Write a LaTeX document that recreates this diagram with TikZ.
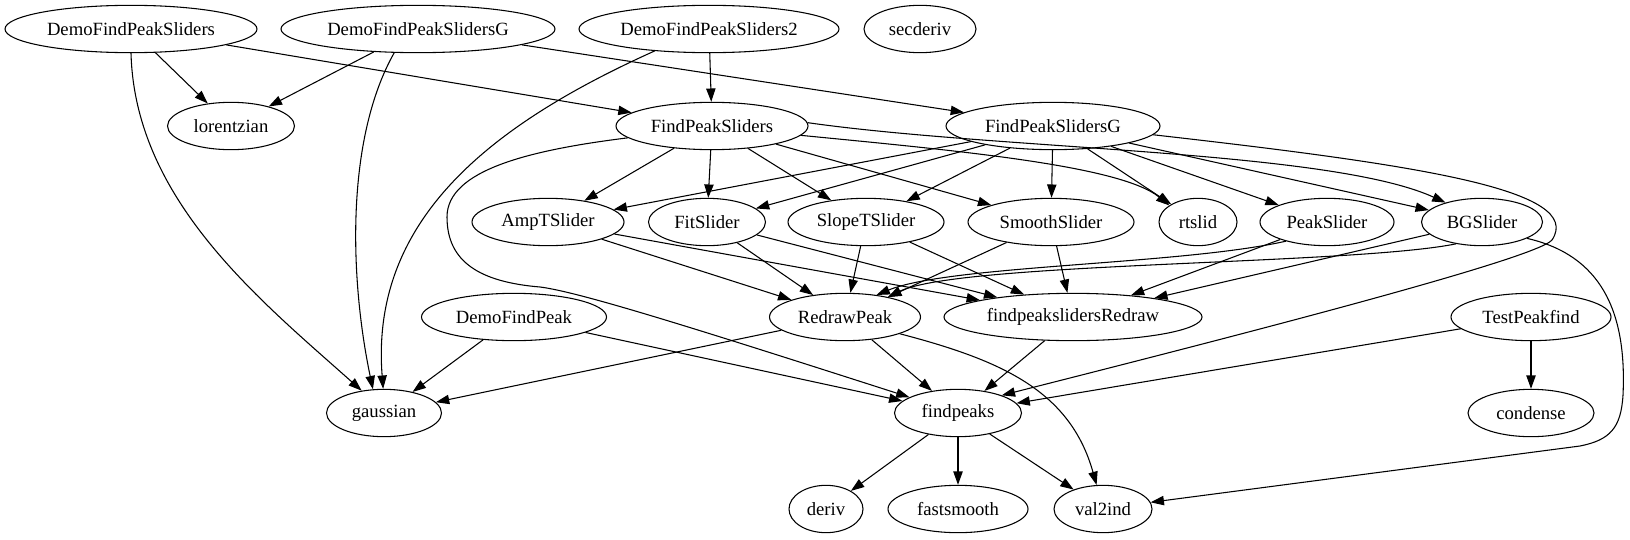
\documentclass[tikz,border=0pt]{standalone}
\usepackage{fontspec}
\setmainfont{Liberation Serif}
\usetikzlibrary{shapes.geometric,arrows.meta}
\begin{document}
\begin{tikzpicture}[x=0.75pt,y=-0.75pt,
  nd/.style={ellipse,draw,line width=0.8pt,inner sep=0pt,minimum height=35.5pt,minimum width=#1*0.75pt,font=\fontsize{14}{16}\selectfont},
  arr/.style={-{Triangle[length=10pt,width=7pt]},line width=0.8pt}]
\useasboundingbox (0,0) rectangle (1630,539);
% rank 1
\node[nd=252] (DFPS) at (131,29) {DemoFindPeakSliders};
\node[nd=274] (DFPSG) at (418,29) {DemoFindPeakSlidersG};
\node[nd=260] (DFPS2) at (709,29) {DemoFindPeakSliders2};
\node[nd=112] (secderiv) at (920,29) {secderiv};
% rank 2
\node[nd=127] (lorentzian) at (231,126) {lorentzian};
\node[nd=192] (FPS) at (712,126) {FindPeakSliders};
\node[nd=214] (FPSG) at (1053,126) {FindPeakSlidersG};
% rank 3
\node[nd=152] (AmpT) at (548,222) {AmpTSlider};
\node[nd=117] (Fit) at (707,222) {FitSlider};
\node[nd=156] (SlopeT) at (866,222) {SlopeTSlider};
\node[nd=166] (Smooth) at (1051,222) {SmoothSlider};
\node[nd=78] (rtslid) at (1198,222) {rtslid};
\node[nd=134] (Peak) at (1327,222) {PeakSlider};
\node[nd=121] (BG) at (1482,222) {BGSlider};
% rank 4
\node[nd=185] (DFP) at (514,317) {DemoFindPeak};
\node[nd=151] (Redraw) at (845,317) {RedrawPeak};
\node[nd=258] (FPSR) at (1073,317) {findpeakslidersRedraw};
\node[nd=160] (TPF) at (1531,317) {TestPeakfind};
% rank 5
\node[nd=115] (gaussian) at (384,413) {gaussian};
\node[nd=127] (findpeaks) at (958,413) {findpeaks};
\node[nd=126] (condense) at (1531,413) {condense};
% rank 6
\node[nd=74] (deriv) at (826,509) {deriv};
\node[nd=140] (fastsmooth) at (958,509) {fastsmooth};
\node[nd=98] (val2ind) at (1103,509) {val2ind};

% edges from top row
\draw[arr] (DFPS) -- (lorentzian);
\draw[arr] (DFPS) -- (FPS);
\draw[arr] (DFPS.south) .. controls (135,200) and (260,300) .. (gaussian.135);
\draw[arr] (DFPSG) -- (lorentzian);
\draw[arr] (DFPSG) -- (FPSG);
\draw[arr] (DFPSG.-135) .. controls (345,140) and (350,280) .. (gaussian.115);
\draw[arr] (DFPS2) -- (FPS);
\draw[arr] (DFPS2.-158) .. controls (490,125) and (370,220) .. (gaussian.92);
% FindPeakSliders
\draw[arr] (FPS) -- (AmpT);
\draw[arr] (FPS) -- (Fit);
\draw[arr] (FPS) -- (SlopeT);
\draw[arr] (FPS) -- (Smooth);
\draw[arr] (FPS.-6) .. controls (950,150) and (1120,165) .. (rtslid.150);
\draw[arr] (FPS.2) .. controls (1000,150) and (1330,150) .. (BG.152);
\draw[arr] (FPS.-172) .. controls (530,150) and (447,170) .. (447,217) .. controls (447,262) and (480,282) .. (540,287) .. controls (580,292) and (700,330) .. (findpeaks.162);
% FindPeakSlidersG
\draw[arr] (FPSG) -- (AmpT);
\draw[arr] (FPSG) -- (Fit);
\draw[arr] (FPSG) -- (SlopeT);
\draw[arr] (FPSG) -- (Smooth);
\draw[arr] (FPSG) -- (rtslid);
\draw[arr] (FPSG) -- (Peak);
\draw[arr] (FPSG) -- (BG);
\draw[arr] (FPSG.-5) .. controls (1420,165) and (1585,190) .. (1552,240) .. controls (1535,260) and (1200,345) .. (findpeaks.22);
% sliders
\draw[arr] (AmpT) -- (Redraw);
\draw[arr] (AmpT) -- (FPSR);
\draw[arr] (Fit) -- (Redraw);
\draw[arr] (Fit) -- (FPSR);
\draw[arr] (SlopeT) -- (Redraw);
\draw[arr] (SlopeT) -- (FPSR);
\draw[arr] (Smooth) -- (Redraw);
\draw[arr] (Smooth) -- (FPSR);
\draw[arr] (Peak.-155) .. controls (1180,265) and (950,265) .. (Redraw.35);
\draw[arr] (Peak) -- (FPSR);
\draw[arr] (BG.-140) .. controls (1350,265) and (960,262) .. (Redraw.25);
\draw[arr] (BG) -- (FPSR);
\draw[arr] (BG.-20) .. controls (1600,255) and (1627,310) .. (1623,395) .. controls (1621,428) and (1610,440) .. (1580,446) -- (val2ind.8);
% rank 4
\draw[arr] (DFP) -- (gaussian);
\draw[arr] (DFP) -- (findpeaks);
\draw[arr] (Redraw) -- (gaussian);
\draw[arr] (Redraw) -- (findpeaks);
\draw[arr] (Redraw.-17) .. controls (1000,360) and (1070,390) .. (val2ind.105);
\draw[arr] (FPSR) -- (findpeaks);
\draw[arr] (TPF) -- (findpeaks);
\draw[arr] (TPF) -- (condense);
% findpeaks
\draw[arr] (findpeaks) -- (deriv);
\draw[arr] (findpeaks) -- (fastsmooth);
\draw[arr] (findpeaks) -- (val2ind);
\end{tikzpicture}
\end{document}
